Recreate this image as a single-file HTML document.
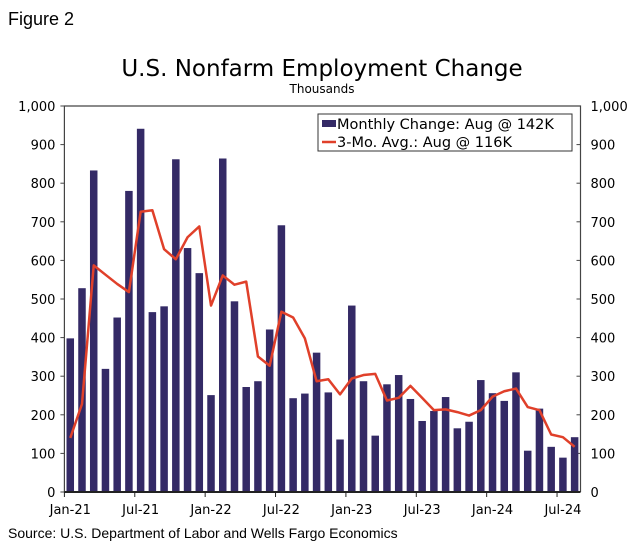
<!DOCTYPE html>
<html><head><meta charset="utf-8"><style>
body{margin:0;background:#fff;}
svg text{font-family:"DejaVu Sans","Liberation Sans",sans-serif;fill:#000;}
</style></head><body>
<svg id="chart" width="642" height="549" viewBox="0 0 642 549" xmlns="http://www.w3.org/2000/svg">
<text x="8" y="25" font-size="18" style="font-family:'Liberation Sans',sans-serif">Figure 2</text>
<text x="322" y="76" font-size="23" text-anchor="middle">U.S. Nonfarm Employment Change</text>
<text x="322" y="93" font-size="12" text-anchor="middle">Thousands</text>
<text x="8" y="538" font-size="14" style="font-family:'Liberation Sans',sans-serif">Source: U.S. Department of Labor and Wells Fargo Economics</text>
<g id="plot"></g>
<g>
<rect x="318" y="114" width="254" height="37" fill="#fff" stroke="#333" stroke-width="1"/>
<rect x="322" y="120" width="14" height="7" fill="#342a66"/>
<text x="337" y="129" font-size="14.5">Monthly Change: Aug @ 142K</text>
<line x1="322" y1="142" x2="336" y2="142" stroke="#e0402a" stroke-width="2.5"/>
<text x="337" y="147" font-size="14.5">3-Mo. Avg.: Aug @ 116K</text>
</g>
</svg>
<script>
const monthly=[398,528,833,319,452,780,941,466,481,862,632,567,251,864,494,272,287,421,691,243,255,361,258,136,483,287,146,279,303,241,184,210,246,165,182,290,256,236,310,107,216,117,89,142];
const avg3=[140,228,587,563,539,518,726,730,629,603,660,688,483,561,537,545,351,327,467,452,398,287,292,253,294,303,306,237,244,275,244,212,214,207,198,212,247,261,268,220,212,149,142,117];
const xLabels=["Jan-21","Jul-21","Jan-22","Jul-22","Jan-23","Jul-23","Jan-24","Jul-24"];
const xLabelIdx=[0,6,12,18,24,30,36,42];
const yTicks=[0,100,200,300,400,500,600,700,800,900,1000];
const yTickLabels=["0","100","200","300","400","500","600","700","800","900","1,000"];

const NS="http://www.w3.org/2000/svg";
const L=64.4,R=580.5,T=106,B=492,yMax=1000;
const slot=(R-L)/monthly.length;
const xC=i=>L+slot*(i+0.5);
const yS=v=>B-(v/yMax)*(B-T);
const g=document.getElementById('plot');
function mk(tag,attrs){const e=document.createElementNS(NS,tag);for(const k in attrs)e.setAttribute(k,attrs[k]);g.appendChild(e);return e;}

yTicks.forEach((v,i)=>{
  const y=yS(v);
  let t=mk('line',{x1:L-4,x2:L,y1:y,y2:y,stroke:'#444'});
  
  
  t=mk('line',{x1:R-4,x2:R,y1:y,y2:y,stroke:'#444'});
  
  
  let a=mk('text',{x:L-9,y:y+5,'font-size':13,'text-anchor':'end'});a.textContent=yTickLabels[i];
  
  
  let b=mk('text',{x:R+10,y:y+5,'font-size':13});b.textContent=yTickLabels[i];
  
  
});
monthly.forEach((v,i)=>{
  const w=slot*0.64;
  const r=mk('rect',{x:xC(i)-w/2,y:yS(v),width:w,height:B-yS(v),fill:'#342a66'});
  
  
});
const pl=mk('polyline',{points:avg3.map((v,i)=>xC(i)+','+yS(v)).join(' '),fill:'none',stroke:'#e0402a','stroke-width':2.5,'stroke-linejoin':'round'});


const frame=mk('path',{d:`M${L},${B}V${T}H${R}V${B}`,fill:'none',stroke:'#444','stroke-width':1.2});


const ax=mk('line',{x1:L,x2:R,y1:B,y2:B,stroke:'#222','stroke-width':2});


xLabels.forEach((s,k)=>{
  const x=xC(xLabelIdx[k])-slot/2;
  const t=mk('line',{x1:x,x2:x,y1:B,y2:B+5,stroke:'#222'});
  
  
  const tx=mk('text',{x:xC(xLabelIdx[k]),y:B+22,'font-size':13,'text-anchor':'middle'});tx.textContent=s;
  
  
});
</script>
</body></html>
